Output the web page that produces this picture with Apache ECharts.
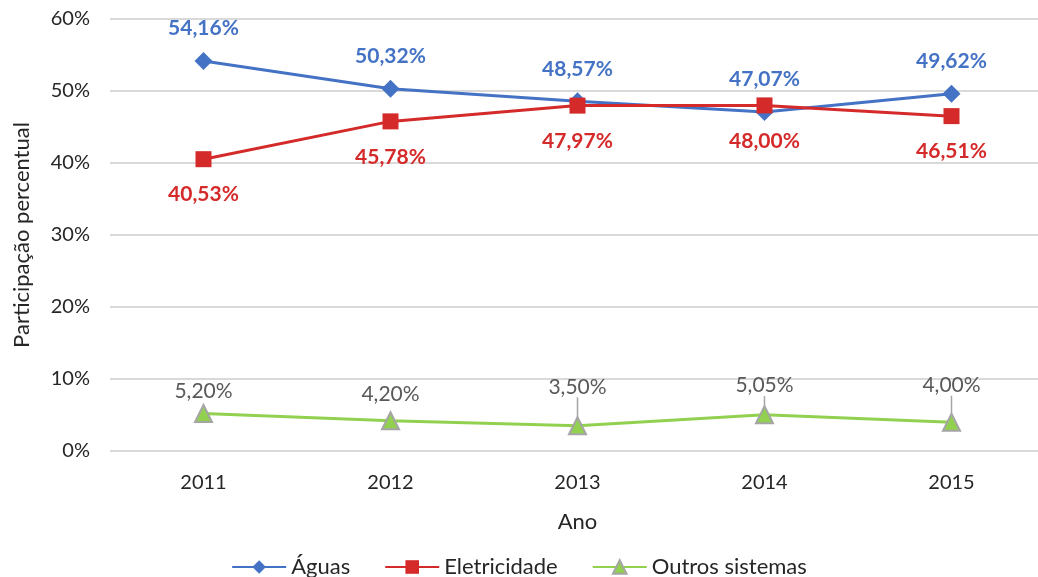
<!DOCTYPE html>
<html>
<head>
<meta charset="utf-8">
<script src="https://cdn.jsdelivr.net/npm/echarts@6/dist/echarts.min.js"></script>
<style>
  html, body { margin: 0; padding: 0; background: #fff; }
  #chart { width: 1038px; height: 577px; }
</style>
</head>
<body>
<div id="chart"></div>
<script>
  const anos = ['2011', '2012', '2013', '2014', '2015'];
  const aguas = [54.16, 50.32, 48.57, 47.07, 49.62];
  const eletricidade = [40.53, 45.78, 47.97, 48.00, 46.51];
  const outros = [5.20, 4.20, 3.50, 5.05, 4.00];
  // grey labels: how far above the point, and which get pulled up with a leader line
  const outrosDist = [2, 7, 6, 5, 5];
  const outrosPuxa = [0, 0, -13, -4, -12];

  const fonte = 'Lato, "Open Sans", sans-serif';
  const fmt = p => p.value.toFixed(2).replace('.', ',') + '%';

  const chart = echarts.init(document.getElementById('chart'));
  chart.setOption({
    textStyle: { fontFamily: fonte },
    animation: false,
    grid: { left: 110, right: -7, top: 19, bottom: 126, outerBoundsMode: 'none' },
    legend: {
      bottom: -6,
      left: 'center',
      itemWidth: 54,
      itemHeight: 17,
      itemGap: 34,
      textStyle: { fontSize: 22, color: '#262626', fontFamily: fonte },
      data: ['Águas', 'Eletricidade', 'Outros sistemas']
    },
    xAxis: {
      type: 'category',
      data: anos,
      boundaryGap: true,
      name: 'Ano',
      nameLocation: 'middle',
      nameGap: 60,
      nameTextStyle: { fontSize: 22, color: '#262626' },
      axisLine: { show: false },
      axisTick: { show: false },
      axisLabel: { fontSize: 20, color: '#262626', margin: 22 }
    },
    yAxis: {
      type: 'value',
      min: 0,
      max: 60,
      interval: 10,
      name: 'Participação percentual',
      nameLocation: 'middle',
      nameGap: 77,
      nameTextStyle: { fontSize: 22, color: '#262626' },
      axisLabel: { formatter: '{value}%', fontSize: 20, color: '#262626', margin: 20 },
      splitLine: { lineStyle: { color: '#D9D9D9', width: 2 } }
    },
    series: [
      {
        name: 'Águas',
        type: 'line',
        data: aguas,
        symbol: 'diamond',
        symbolSize: 18,
        lineStyle: { color: '#4472C4', width: 3 },
        itemStyle: { color: '#4472C4' },
        label: {
          show: true, position: 'top', distance: 13,
          formatter: fmt, fontSize: 21, fontWeight: 'bold', color: '#4472C4'
        }
      },
      {
        name: 'Eletricidade',
        type: 'line',
        data: eletricidade,
        symbol: 'rect',
        symbolSize: 16,
        lineStyle: { color: '#D42A2A', width: 3 },
        itemStyle: { color: '#D42A2A' },
        label: {
          show: true, position: 'bottom', distance: 17,
          formatter: fmt, fontSize: 21, fontWeight: 'bold', color: '#D42A2A'
        }
      },
      {
        name: 'Outros sistemas',
        type: 'line',
        data: outros.map((v, i) => ({
          value: v,
          label: { distance: outrosDist[i] },
          labelLine: { show: outrosPuxa[i] !== 0 }
        })),
        symbol: 'triangle',
        symbolSize: 17,
        lineStyle: { color: '#92D050', width: 3 },
        itemStyle: { color: '#92D050', borderColor: '#A5A5A5', borderWidth: 2 },
        label: {
          show: true, position: 'top',
          formatter: fmt, fontSize: 21, color: '#595959'
        },
        labelLine: { show: true, lineStyle: { color: '#A5A5A5', width: 1.5 } },
        labelLayout: p => ({ dy: outrosPuxa[p.dataIndex] })
      }
    ]
  });
</script>
</body>
</html>
